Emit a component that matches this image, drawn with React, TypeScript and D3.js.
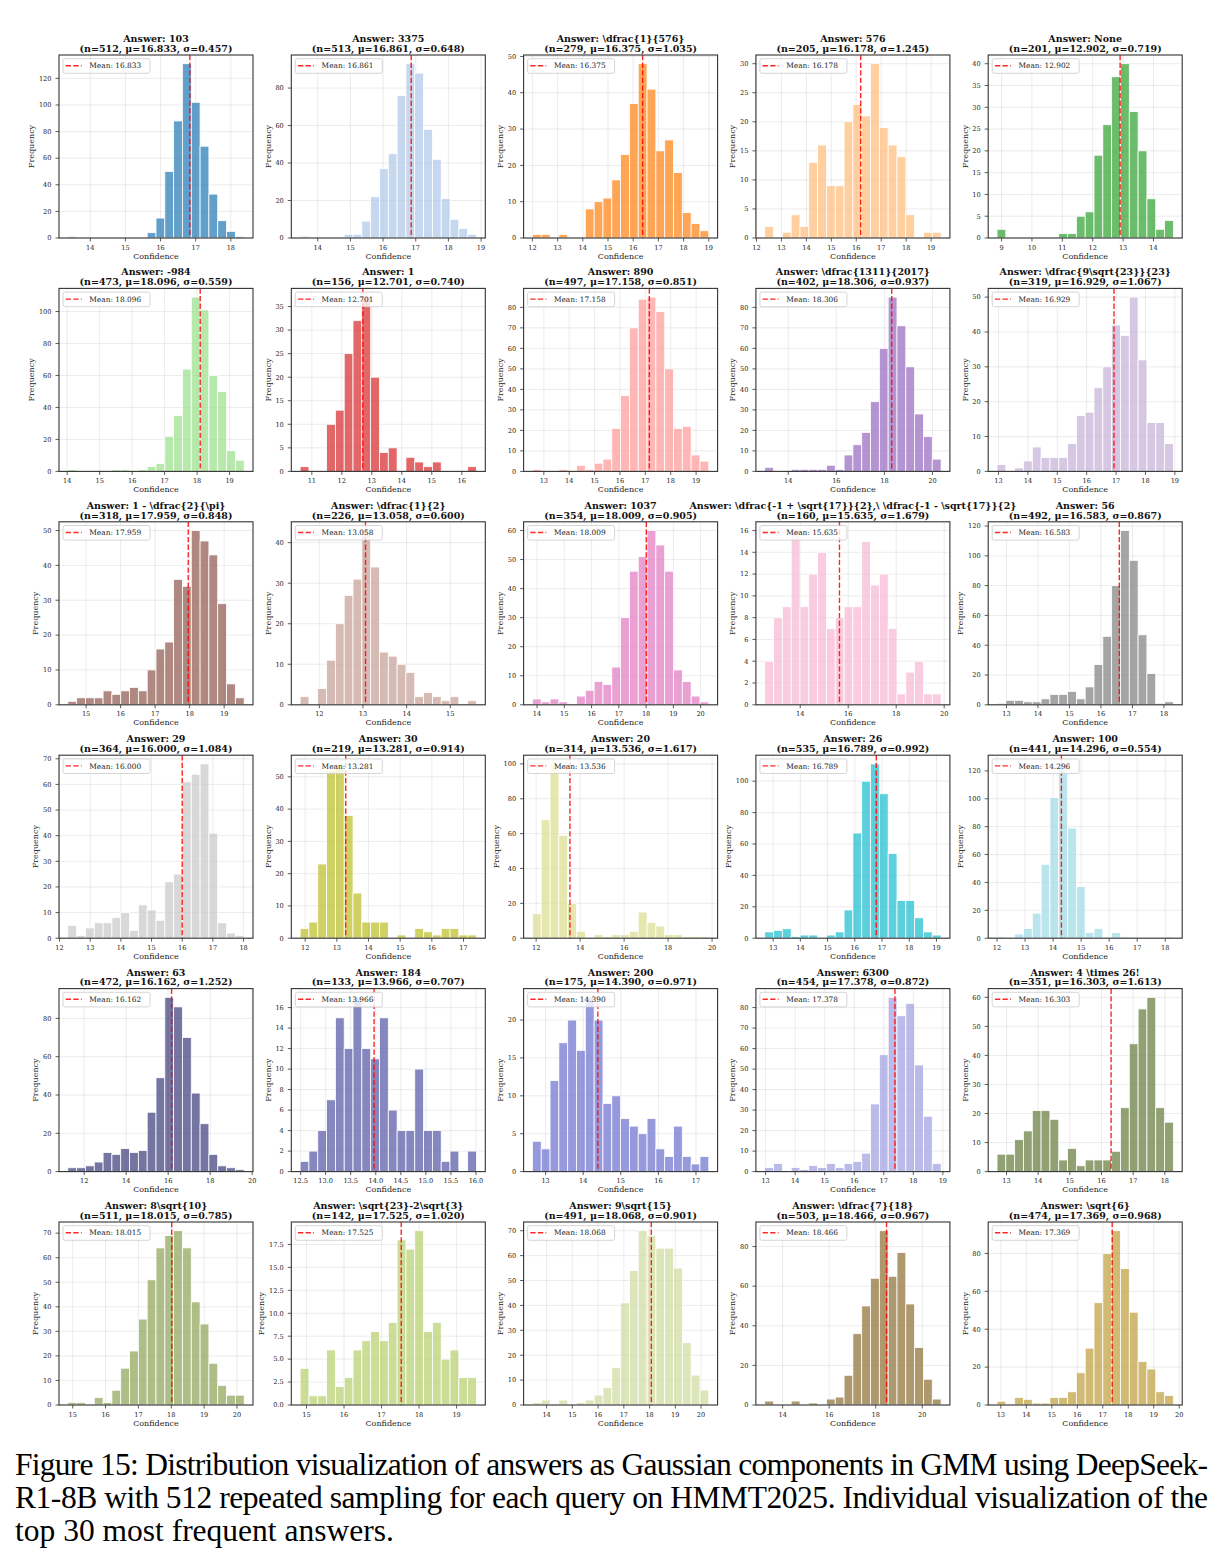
import React from 'react';
import * as d3 from 'd3';

// Top-30 answers and their GMM component stats
const answers = [
  '103', '3375', '\\dfrac{1}{576}', '576', 'None',
  '-984', '1', '890', '\\dfrac{1311}{2017}', '\\dfrac{9\\sqrt{23}}{23}',
  '1 - \\dfrac{2}{\\pi}', '\\dfrac{1}{2}', '1037', '\\dfrac{-1 + \\sqrt{17}}{2},\\ \\dfrac{-1 - \\sqrt{17}}{2}', '56',
  '29', '30', '20', '26', '100',
  '63', '184', '200', '6300', '4 \\times 26!',
  '8\\sqrt{10}', '\\sqrt{23}-2\\sqrt{3}', '9\\sqrt{15}', '\\dfrac{7}{18}', '\\sqrt{6}',
];
const sampleCounts = [512, 513, 279, 205, 201, 473, 156, 497, 402, 319, 318, 226, 354, 160, 492, 364, 219, 314, 535, 441, 472, 133, 175, 454, 351, 511, 142, 491, 503, 474];
const means = [16.833, 16.861, 16.375, 16.178, 12.902, 18.096, 12.701, 17.158, 18.306, 16.929, 17.959, 13.058, 18.009, 15.635, 16.583, 16.0, 13.281, 13.536, 16.789, 14.296, 16.162, 13.966, 14.39, 17.378, 16.303, 18.015, 17.525, 18.068, 18.466, 17.369];
const sigmas = [0.457, 0.648, 1.035, 1.245, 0.719, 0.559, 0.74, 0.851, 0.937, 1.067, 0.848, 0.6, 0.905, 1.679, 0.867, 1.084, 0.914, 1.617, 0.992, 0.554, 1.252, 0.707, 0.971, 0.872, 1.613, 0.785, 1.02, 0.901, 0.967, 0.968];

// confidence range covered by the 20 histogram bins
const binLo = [13.36, 13.46, 12.0, 12.33, 8.85, 14.02, 10.61, 12.55, 13.02, 12.95, 14.47, 11.56, 13.83, 12.52, 12.7, 12.27, 11.84, 11.83, 12.69, 12.0, 11.22, 12.49, 12.65, 12.97, 12.7, 14.85, 14.83, 13.45, 13.23, 12.85];
const binHi = [18.38, 18.86, 19.0, 19.4, 14.655, 19.45, 16.49, 19.5, 20.36, 18.95, 19.58, 15.6, 20.3, 19.87, 18.3, 18.02, 17.41, 19.85, 19.17, 18.29, 19.62, 16.01, 17.34, 18.94, 18.27, 20.22, 19.53, 20.3, 20.81, 19.77];

const binCounts = [
  [1, 0, 0, 0, 0, 0, 0, 0, 0, 4, 15, 50, 88, 131, 102, 69, 33, 13, 5, 1],
  [1, 0, 0, 0, 0, 2, 2, 9, 22, 37, 45, 76, 93, 88, 58, 42, 21, 10, 5, 2],
  [1, 1, 0, 1, 0, 0, 8, 10, 11, 16, 23, 37, 48, 41, 24, 27, 18, 7, 4, 2],
  [2, 0, 1, 4, 2, 13, 16, 9, 9, 20, 23, 21, 30, 19, 16, 14, 4, 0, 1, 1],
  [2, 0, 0, 0, 0, 0, 0, 1, 1, 5, 6, 19, 26, 37, 40, 29, 20, 9, 2, 4],
  [1, 0, 0, 0, 0, 1, 1, 0, 1, 3, 5, 22, 35, 64, 109, 101, 60, 50, 13, 7],
  [1, 0, 0, 10, 13, 25, 32, 37, 20, 4, 5, 0, 3, 2, 1, 2, 0, 0, 0, 1],
  [1, 0, 0, 1, 0, 3, 1, 4, 6, 21, 37, 70, 84, 85, 78, 50, 21, 22, 8, 5],
  [2, 0, 0, 1, 1, 1, 1, 3, 1, 8, 13, 19, 34, 60, 85, 71, 51, 28, 17, 6],
  [2, 0, 1, 3, 7, 4, 4, 4, 8, 16, 17, 24, 30, 42, 39, 50, 32, 14, 14, 8],
  [1, 2, 2, 2, 4, 3, 4, 5, 4, 10, 16, 18, 36, 34, 50, 47, 43, 29, 6, 2],
  [2, 0, 4, 11, 20, 27, 31, 43, 34, 13, 12, 10, 8, 2, 3, 2, 1, 2, 0, 1],
  [2, 1, 2, 1, 0, 3, 5, 8, 7, 13, 30, 46, 51, 60, 55, 46, 12, 8, 3, 1],
  [4, 8, 9, 16, 9, 12, 14, 7, 8, 9, 9, 15, 11, 12, 7, 1, 3, 4, 1, 1],
  [1, 3, 3, 2, 2, 4, 7, 7, 9, 4, 12, 27, 46, 80, 117, 97, 47, 21, 1, 2],
  [5, 1, 4, 6, 6, 8, 10, 3, 13, 11, 7, 22, 25, 61, 64, 68, 41, 6, 2, 1],
  [3, 5, 23, 52, 54, 38, 14, 5, 5, 5, 0, 1, 0, 3, 2, 1, 3, 3, 1, 1],
  [14, 68, 100, 59, 20, 4, 0, 2, 1, 2, 2, 4, 15, 9, 7, 2, 2, 1, 1, 1],
  [4, 5, 6, 1, 2, 2, 0, 2, 4, 18, 67, 100, 111, 92, 54, 24, 24, 13, 4, 2],
  [1, 0, 3, 7, 18, 53, 101, 125, 79, 37, 4, 7, 0, 4, 1, 0, 0, 0, 0, 1],
  [2, 2, 3, 5, 10, 9, 12, 10, 11, 31, 49, 91, 86, 70, 41, 25, 9, 3, 2, 1],
  [1, 2, 4, 7, 15, 12, 17, 12, 11, 15, 6, 4, 4, 10, 4, 4, 1, 2, 0, 2],
  [4, 3, 12, 17, 20, 16, 23, 20, 9, 10, 7, 6, 5, 7, 3, 2, 6, 2, 1, 2],
  [2, 4, 0, 2, 1, 3, 2, 4, 2, 4, 5, 9, 33, 57, 85, 76, 82, 52, 27, 4],
  [6, 6, 11, 14, 21, 21, 18, 4, 8, 2, 4, 4, 4, 7, 22, 44, 56, 60, 22, 17],
  [1, 1, 0, 3, 1, 6, 15, 22, 35, 51, 64, 69, 71, 64, 42, 33, 17, 8, 4, 4],
  [4, 1, 1, 6, 2, 3, 6, 7, 8, 7, 9, 18, 17, 19, 8, 9, 5, 6, 3, 3],
  [1, 2, 0, 2, 0, 1, 2, 4, 7, 15, 41, 54, 70, 68, 63, 63, 55, 25, 12, 6],
  [2, 0, 0, 2, 0, 1, 0, 3, 4, 15, 36, 50, 64, 88, 65, 77, 51, 29, 13, 3],
  [2, 0, 4, 3, 1, 1, 4, 4, 7, 17, 30, 54, 80, 92, 72, 49, 23, 19, 7, 5],
];

// spacing of the confidence tick labels
const xTickSteps = [1, 1, 1, 1, 1, 1, 1, 1, 2, 1, 1, 1, 1, 2, 1, 1, 1, 2, 1, 1, 2, 0.5, 1, 1, 1, 1, 1, 1, 2, 1];

const captionLines = [
  'Figure 15: Distribution visualization of answers as Gaussian components in GMM using DeepSeek-',
  'R1-8B with 512 repeated sampling for each query on HMMT2025. Individual visualization of the',
  'top 30 most frequent answers.',
];

// tab20 followed by tab20b
const palette = [
  '#1f77b4', '#aec7e8', '#ff7f0e', '#ffbb78', '#2ca02c', '#98df8a', '#d62728', '#ff9896', '#9467bd', '#c5b0d5',
  '#8c564b', '#c49c94', '#e377c2', '#f7b6d2', '#7f7f7f', '#c7c7c7', '#bcbd22', '#dbdb8d', '#17becf', '#9edae5',
  '#393b79', '#5254a3', '#6b6ecf', '#9c9ede', '#637939', '#8ca252', '#b5cf6b', '#cedb9c', '#8c6d31', '#bd9e39',
];

const SERIF = '"DejaVu Serif", serif';
const PW = 194;
const PH = 183;
const COL_X = 59;
const COL_DX = 232.3;
const ROW_Y = 55;
const ROW_DY = 233.4;
const TICK_FS = 6.6;

// matplotlib-like "nice" step with at most 9 intervals
function niceStep(max: number): number {
  for (let k = 0; k < 6; k++) {
    for (const m of [1, 2, 2.5, 5]) {
      const s = m * Math.pow(10, k);
      if (Math.ceil(max / s - 1e-9) <= 9) return s;
    }
  }
  return 1e6;
}

function stepTicks(lo: number, hi: number, step: number): number[] {
  const out: number[] = [];
  const start = Math.ceil(lo / step - 1e-9);
  const end = Math.floor(hi / step + 1e-9);
  for (let k = start; k <= end; k++) out.push(+(k * step).toFixed(6));
  return out;
}

function fmt(v: number, step: number): string {
  return Number.isInteger(step) ? String(Math.round(v)) : v.toFixed(1);
}

function labelWidth(s: string): number {
  let w = 0;
  for (const ch of s) w += ch === '.' ? 0.318 : 0.636;
  return w * TICK_FS;
}

const Panel: React.FC<{ i: number }> = ({ i }) => {
  const col = i % 5;
  const row = Math.floor(i / 5);
  const left = COL_X + col * COL_DX;
  const top = ROW_Y + row * ROW_DY;

  const counts = binCounts[i];
  const lo = binLo[i];
  const hi = binHi[i];
  const bw = (hi - lo) / counts.length;
  const margin = (hi - lo) * 0.05;

  const x = d3.scaleLinear().domain([lo - margin, hi + margin]).range([0, PW]);
  const yMax = (d3.max(counts) || 1) * 1.05;
  const y = d3.scaleLinear().domain([0, yMax]).range([PH, 0]);

  const xStep = xTickSteps[i];
  const xTicks = stepTicks(lo - margin, hi + margin, xStep);
  const yStep = niceStep(yMax);
  const yTicks = stepTicks(0, yMax, yStep);
  const yLabels = yTicks.map((t) => fmt(t, yStep));
  const maxLabelW = d3.max(yLabels, labelWidth) || 0;

  const color = palette[i];
  const mu = means[i];

  return (
    <g transform={`translate(${left},${top})`}>
      {/* grid */}
      {xTicks.map((t) => (
        <line key={`gx${t}`} x1={x(t)} x2={x(t)} y1={0} y2={PH} stroke="#b0b0b0" strokeOpacity={0.3} strokeWidth={0.8} />
      ))}
      {yTicks.map((t) => (
        <line key={`gy${t}`} x1={0} x2={PW} y1={y(t)} y2={y(t)} stroke="#b0b0b0" strokeOpacity={0.3} strokeWidth={0.8} />
      ))}

      {/* histogram bars */}
      {counts.map((c, k) =>
        c > 0 ? (
          <rect
            key={k}
            x={x(lo + k * bw)}
            y={y(c)}
            width={x(lo + (k + 1) * bw) - x(lo + k * bw)}
            height={PH - y(c)}
            fill={color}
            fillOpacity={0.7}
            stroke="#fff"
            strokeWidth={0.8}
          />
        ) : null
      )}

      {/* mean line */}
      <line x1={x(mu)} x2={x(mu)} y1={0} y2={PH} stroke="#ff0000" strokeOpacity={0.85} strokeWidth={1.4} strokeDasharray="5.3,2.3" />

      {/* frame */}
      <rect x={0} y={0} width={PW} height={PH} fill="none" stroke="#333" strokeWidth={1.1} />

      {/* x axis */}
      {xTicks.map((t) => (
        <g key={`tx${t}`} transform={`translate(${x(t)},${PH})`}>
          <line y2={3.5} stroke="#333" strokeWidth={0.8} />
          <text y={11.5} textAnchor="middle" fontFamily={SERIF} fontSize={TICK_FS} fill="#222">
            {fmt(t, xStep)}
          </text>
        </g>
      ))}
      <text x={PW / 2} y={PH + 20.5} textAnchor="middle" fontFamily={SERIF} fontSize={8} fill="#222">
        Confidence
      </text>

      {/* y axis */}
      {yTicks.map((t, k) => (
        <g key={`ty${t}`} transform={`translate(0,${y(t)})`}>
          <line x2={-3.5} stroke="#333" strokeWidth={0.8} />
          <text x={-7.5} dy="0.35em" textAnchor="end" fontFamily={SERIF} fontSize={TICK_FS} fill="#222">
            {yLabels[k]}
          </text>
        </g>
      ))}
      <text
        transform={`translate(${-7.5 - maxLabelW - 7.5},${PH / 2}) rotate(-90)`}
        textAnchor="middle"
        dy="0.35em"
        fontFamily={SERIF}
        fontSize={8}
        fill="#222"
      >
        Frequency
      </text>

      {/* legend */}
      <g transform="translate(4,3.7)">
        <rect width={87} height={14.6} rx={2} fill="#fff" fillOpacity={0.8} stroke="#ccc" strokeWidth={0.8} />
        <line x1={2.7} x2={18.7} y1={7} y2={7} stroke="#ff0000" strokeOpacity={0.85} strokeWidth={1.4} strokeDasharray="5.3,2.3" />
        <text x={26.3} y={9.7} fontFamily={SERIF} fontSize={7.4} fill="#222">
          {`Mean: ${mu.toFixed(3)}`}
        </text>
      </g>

      {/* title */}
      <text x={PW / 2} y={-13} textAnchor="middle" fontFamily={SERIF} fontWeight="bold" fontSize={9.5} fill="#111">
        {`Answer: ${answers[i]}`}
      </text>
      <text x={PW / 2} y={-3.2} textAnchor="middle" fontFamily={SERIF} fontWeight="bold" fontSize={9.5} fill="#111">
        {`(n=${sampleCounts[i]}, \u03bc=${mu.toFixed(3)}, \u03c3=${sigmas[i].toFixed(3)})`}
      </text>
    </g>
  );
};

export default function App() {
  return (
    <svg
      width={1223}
      height={1562}
      viewBox="0 0 1223 1562"
      style={{ position: 'absolute', left: 0, top: 0, background: '#fff' }}
    >
      <rect width={1223} height={1562} fill="#fff" />
      {answers.map((_, i) => (
        <Panel key={i} i={i} />
      ))}
      {captionLines.map((line, k) => (
        <text
          key={k}
          x={15}
          y={1475 + k * 33}
          fontFamily='"Liberation Serif", "Times New Roman", serif'
          fontSize={31.5}
          fill="#000"
          textLength={k < 2 ? 1193 : undefined}
          lengthAdjust="spacing"
        >
          {line}
        </text>
      ))}
    </svg>
  );
}
